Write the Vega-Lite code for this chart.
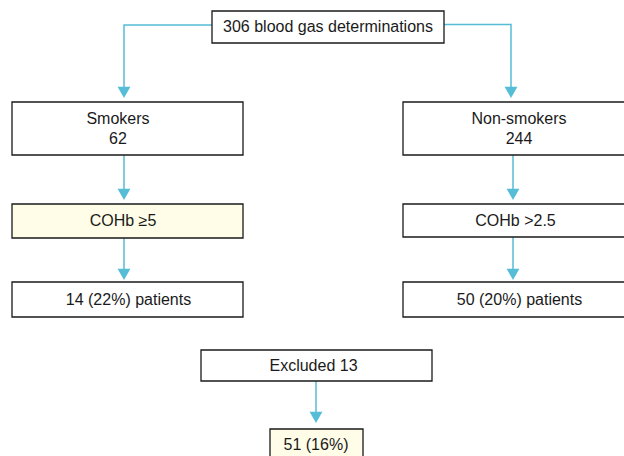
{
  "$schema": "https://vega.github.io/schema/vega-lite/v6.json",
  "width": 624,
  "height": 456,
  "autosize": {"type": "fit", "contains": "padding"},
  "padding": 0,
  "background": "white",
  "config": {"view": {"stroke": null}},
  "datasets": {
    "boxes": [
      {"id": "top", "label": "306 blood gas determinations", "x0": 212, "x1": 444, "y0": 11, "y1": 43, "cx": 328, "cy": 27, "kind": "plain"},
      {"id": "smk", "label": "Smokers\n62", "x0": 12, "x1": 243, "y0": 102, "y1": 155, "cx": 118, "cy": 119, "kind": "plain"},
      {"id": "non", "label": "Non-smokers\n244", "x0": 403, "x1": 630, "y0": 102, "y1": 155, "cx": 519, "cy": 119, "kind": "plain"},
      {"id": "coL", "label": "COHb ≥5", "x0": 12, "x1": 243, "y0": 204, "y1": 238, "cx": 123, "cy": 221, "kind": "highlight"},
      {"id": "coR", "label": "COHb >2.5", "x0": 403, "x1": 630, "y0": 204, "y1": 237, "cx": 515.5, "cy": 221, "kind": "plain"},
      {"id": "pL", "label": "14 (22%) patients", "x0": 12, "x1": 243, "y0": 282, "y1": 317, "cx": 128.5, "cy": 299.5, "kind": "plain"},
      {"id": "pR", "label": "50 (20%) patients", "x0": 403, "x1": 630, "y0": 282, "y1": 317, "cx": 519.5, "cy": 299.5, "kind": "plain"},
      {"id": "exc", "label": "Excluded 13", "x0": 201, "x1": 432, "y0": 350, "y1": 381, "cx": 313.5, "cy": 366, "kind": "plain"},
      {"id": "fin", "label": "51 (16%)", "x0": 270, "x1": 363, "y0": 429, "y1": 462, "cx": 316, "cy": 445, "kind": "highlight"}
    ],
    "links": [
      {"seg": "A", "step": 1, "x": 212, "y": 25},
      {"seg": "A", "step": 2, "x": 124, "y": 25},
      {"seg": "A", "step": 3, "x": 124, "y": 92},
      {"seg": "B", "step": 1, "x": 444, "y": 24.5},
      {"seg": "B", "step": 2, "x": 511, "y": 24.5},
      {"seg": "B", "step": 3, "x": 511, "y": 92},
      {"seg": "C", "step": 1, "x": 124, "y": 155},
      {"seg": "C", "step": 2, "x": 124, "y": 194},
      {"seg": "D", "step": 1, "x": 124, "y": 238},
      {"seg": "D", "step": 2, "x": 124, "y": 274},
      {"seg": "E", "step": 1, "x": 513, "y": 155},
      {"seg": "E", "step": 2, "x": 513, "y": 194},
      {"seg": "F", "step": 1, "x": 513, "y": 237},
      {"seg": "F", "step": 2, "x": 513, "y": 274},
      {"seg": "G", "step": 1, "x": 316, "y": 381},
      {"seg": "G", "step": 2, "x": 316, "y": 417}
    ],
    "arrows": [
      {"x": 124, "y": 98},
      {"x": 511, "y": 98},
      {"x": 124, "y": 200},
      {"x": 124, "y": 280},
      {"x": 513, "y": 200},
      {"x": 513, "y": 280},
      {"x": 316, "y": 423}
    ]
  },
  "layer": [
    {
      "data": {"name": "links"},
      "mark": {"type": "line", "color": "#56BDD6", "strokeWidth": 1.5},
      "encoding": {
        "x": {"field": "x", "type": "quantitative", "scale": {"domain": [0, 624], "nice": false, "zero": false}, "axis": null},
        "y": {"field": "y", "type": "quantitative", "scale": {"domain": [0, 456], "nice": false, "zero": false, "reverse": true}, "axis": null},
        "detail": {"field": "seg"},
        "order": {"field": "step"}
      }
    },
    {
      "data": {"name": "arrows"},
      "mark": {"type": "point", "shape": "triangle-down", "filled": true, "size": 165, "color": "#56BDD6", "opacity": 1, "yOffset": -5.6},
      "encoding": {
        "x": {"field": "x", "type": "quantitative", "scale": {"domain": [0, 624], "nice": false, "zero": false}, "axis": null},
        "y": {"field": "y", "type": "quantitative", "scale": {"domain": [0, 456], "nice": false, "zero": false, "reverse": true}, "axis": null}
      }
    },
    {
      "data": {"name": "boxes"},
      "mark": {"type": "rect", "stroke": "#1a1a1a", "strokeWidth": 1.3, "clip": true},
      "encoding": {
        "x": {"field": "x0", "type": "quantitative", "scale": {"domain": [0, 624], "nice": false, "zero": false}, "axis": null},
        "x2": {"field": "x1"},
        "y": {"field": "y0", "type": "quantitative", "scale": {"domain": [0, 456], "nice": false, "zero": false, "reverse": true}, "axis": null},
        "y2": {"field": "y1"},
        "fill": {"field": "kind", "type": "nominal", "scale": {"domain": ["plain", "highlight"], "range": ["#FFFFFF", "#FFFDE8"]}, "legend": null}
      }
    },
    {
      "data": {"name": "boxes"},
      "mark": {"type": "text", "font": "Liberation Sans", "fontSize": 16, "color": "#1a1a1a", "align": "center", "baseline": "middle", "lineBreak": "\n", "lineHeight": 20},
      "encoding": {
        "x": {"field": "cx", "type": "quantitative", "scale": {"domain": [0, 624], "nice": false, "zero": false}, "axis": null},
        "y": {"field": "cy", "type": "quantitative", "scale": {"domain": [0, 456], "nice": false, "zero": false, "reverse": true}, "axis": null},
        "text": {"field": "label"}
      }
    }
  ]
}
